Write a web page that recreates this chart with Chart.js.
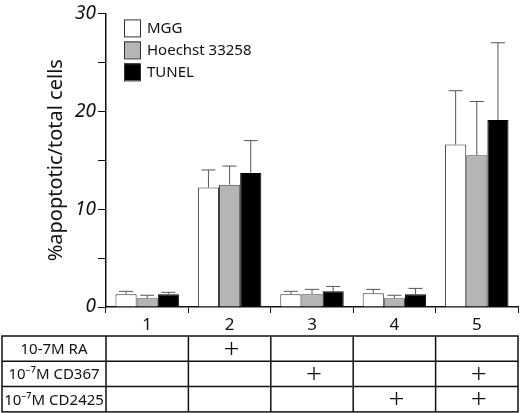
<!DOCTYPE html>
<html>
<head>
<meta charset="utf-8">
<script src="https://cdn.jsdelivr.net/npm/chart.js@4/dist/chart.umd.min.js"></script>
<style>
  body { margin: 0; background: #fff; }
  canvas { display: block; }
</style>
</head>
<body>
<canvas id="grafico" width="520" height="413"></canvas>
<script>
const categorias = ['1', '2', '3', '4', '5'];
const nombresSeries = ['MGG', 'Hoechst 33258', 'TUNEL'];

// valores medios
const valoresMGG = [1.3, 12.2, 1.3, 1.4, 16.6];
const valoresHoechst = [0.9, 12.5, 1.3, 0.9, 15.5];
const valoresTUNEL = [1.3, 13.7, 1.6, 1.3, 19.1];

// extremo superior de las barras de error
const errorMGG = [1.6, 14.0, 1.6, 1.8, 22.1];
const errorHoechst = [1.2, 14.4, 1.8, 1.2, 21.0];
const errorTUNEL = [1.5, 17.0, 2.1, 1.9, 27.0];

const ticksY = [0, 10, 20, 30];

// tabla de tratamientos
const tratamientos = ['10-7M RA', '10\u207B\u2077M CD367', '10\u207B\u2077M CD2425'];
const marcasRA = [0, 1, 0, 0, 0];
const marcasCD367 = [0, 0, 1, 0, 1];
const marcasCD2425 = [0, 0, 0, 1, 1];

const fuente = "'Noto Sans', sans-serif";
const erroresPorSerie = [errorMGG, errorHoechst, errorTUNEL];
const marcasPorFila = [marcasRA, marcasCD367, marcasCD2425];

const extras = {
    id: 'extras',
    afterDatasetsDraw(chart) {
        const ctx = chart.ctx;
        const y = chart.scales.y;
        ctx.save();
        ctx.strokeStyle = '#555';
        ctx.lineWidth = 1;
        chart.data.datasets.forEach((ds, i) => {
            chart.getDatasetMeta(i).data.forEach((bar, j) => {
                const tope = y.getPixelForValue(erroresPorSerie[i][j]);
                ctx.beginPath();
                ctx.moveTo(bar.x, bar.y);
                ctx.lineTo(bar.x, tope);
                ctx.moveTo(bar.x - 7, tope);
                ctx.lineTo(bar.x + 7, tope);
                ctx.stroke();
            });
        });
        ctx.restore();
    },
    afterDraw(chart) {
        const ctx = chart.ctx;
        const area = chart.chartArea;
        const x = chart.scales.x;

        // leyenda
        ctx.save();
        ctx.font = '15px ' + fuente;
        ctx.textBaseline = 'middle';
        chart.data.datasets.forEach((ds, i) => {
            const bx = area.left + 18;
            const by = area.top + 6 + i * 22;
            ctx.fillStyle = ds.backgroundColor;
            ctx.fillRect(bx, by, 16, 17);
            ctx.strokeStyle = '#333';
            ctx.lineWidth = 1;
            ctx.strokeRect(bx + 0.5, by + 0.5, 16, 17);
            ctx.fillStyle = '#111';
            ctx.fillText(ds.label, bx + 23, by + 9);
        });

        // tabla
        const ancho = x.width / categorias.length;
        const top = 336;
        const alto = 25.3;
        const izq = 2;
        const der = area.right;
        ctx.strokeStyle = '#111';
        ctx.lineWidth = 1.5;
        ctx.strokeRect(izq, top, der - izq, alto * tratamientos.length);
        for (let r = 1; r < tratamientos.length; r++) {
            ctx.beginPath();
            ctx.moveTo(izq, top + r * alto);
            ctx.lineTo(der, top + r * alto);
            ctx.stroke();
        }
        for (let c = 0; c < categorias.length; c++) {
            const bordeX = x.getPixelForValue(c) - ancho / 2;
            ctx.beginPath();
            ctx.moveTo(bordeX, top);
            ctx.lineTo(bordeX, top + alto * tratamientos.length);
            ctx.stroke();
        }
        ctx.fillStyle = '#111';
        ctx.textAlign = 'center';
        tratamientos.forEach((t, r) => {
            const cy = top + r * alto + alto / 2 + 1;
            ctx.font = '15px ' + fuente;
            ctx.fillText(t, (izq + area.left) / 2, cy);
            ctx.font = '300 28px ' + fuente;
            marcasPorFila[r].forEach((m, c) => {
                if (m) ctx.fillText('+', x.getPixelForValue(c) + 2, cy);
            });
        });
        ctx.restore();
    }
};

new Chart(document.getElementById('grafico'), {
    type: 'bar',
    data: {
        labels: categorias,
        datasets: [
            { label: nombresSeries[0], data: valoresMGG, backgroundColor: '#ffffff', borderColor: '#333', borderWidth: 1 },
            { label: nombresSeries[1], data: valoresHoechst, backgroundColor: '#b5b5b5', borderColor: '#444', borderWidth: 1 },
            { label: nombresSeries[2], data: valoresTUNEL, backgroundColor: '#000000', borderColor: '#000', borderWidth: 1 }
        ]
    },
    options: {
        responsive: false,
        animation: false,
        devicePixelRatio: 1,
        layout: { padding: { top: 7, right: 2, bottom: 77, left: 0 } },
        categoryPercentage: 0.77,
        barPercentage: 1,
        plugins: {
            legend: { display: false },
            tooltip: { enabled: false }
        },
        scales: {
            x: {
                afterFit(scale) { scale.height = 29; },
                grid: { drawOnChartArea: false, tickLength: 6, color: '#111', offset: true },
                border: { color: '#111', width: 1.5 },
                ticks: { color: '#111', padding: 2, font: { family: 'Noto Sans', size: 17 } }
            },
            y: {
                min: 0,
                max: 30,
                afterFit(scale) { scale.width = 106; },
                grid: { drawOnChartArea: false, tickLength: 8, color: '#111' },
                border: { color: '#111', width: 1.5 },
                ticks: {
                    stepSize: 5,
                    color: '#111',
                    padding: 2,
                    font: { family: 'Noto Sans', size: 19, style: 'italic' },
                    callback: v => ticksY.includes(v) ? v : ''
                },
                title: {
                    display: true,
                    text: '%apoptotic/total cells',
                    color: '#111',
                    padding: { top: 44, bottom: 0 },
                    font: { family: 'Noto Sans', size: 20 }
                }
            }
        }
    },
    plugins: [extras]
});
</script>
</body>
</html>
